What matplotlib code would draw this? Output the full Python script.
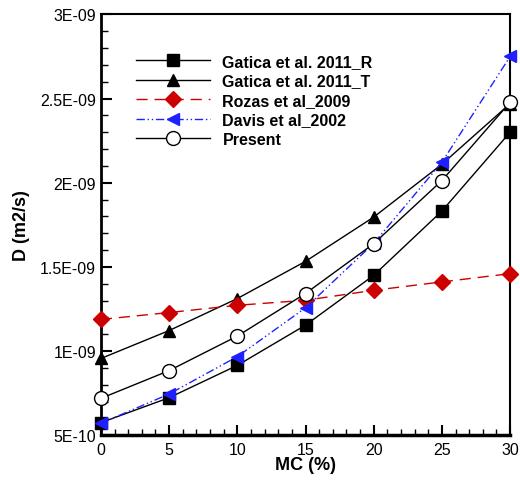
import numpy as np
import matplotlib
matplotlib.use("Agg")
import matplotlib.pyplot as plt
from matplotlib.ticker import MultipleLocator, FuncFormatter

plt.rcParams['font.family'] = ['Liberation Sans', 'DejaVu Sans']

mc = [0, 5, 10, 15, 20, 25, 30]
gatica_r = [0.575e-9, 0.723e-9, 0.915e-9, 1.154e-9, 1.450e-9, 1.832e-9, 2.300e-9]
gatica_t = [0.956e-9, 1.122e-9, 1.312e-9, 1.533e-9, 1.796e-9, 2.110e-9, 2.470e-9]
rozas = [1.188e-9, 1.229e-9, 1.272e-9, 1.302e-9, 1.361e-9, 1.411e-9, 1.460e-9]
davis = [0.571e-9, 0.745e-9, 0.967e-9, 1.257e-9, 1.640e-9, 2.122e-9, 2.750e-9]
present = [0.719e-9, 0.884e-9, 1.089e-9, 1.342e-9, 1.638e-9, 2.013e-9, 2.478e-9]

fig = plt.figure(figsize=(5.2, 4.81), dpi=100)
ax = fig.add_axes([0.194, 0.093, 0.787, 0.875])

ax.plot(mc, gatica_r, color='black', lw=1, marker='s', ms=8.5, label='Gatica et al. 2011_R', clip_on=False, zorder=3)
ax.plot(mc, gatica_t, color='black', lw=1, marker='^', ms=8.5, label='Gatica et al. 2011_T', clip_on=False, zorder=3)
ax.plot(mc, rozas, color='#cc0000', lw=1, ls=(0, (8, 5)), marker='D', ms=8, mec='#cc0000', mfc='#cc0000',
        label='Rozas et al_2009', clip_on=False, zorder=3)
ax.plot(mc, davis, color='#2020ff', lw=1, ls=(0, (6, 2, 1, 2, 1, 2)), marker='<', ms=9,
        label='Davis et al_2002', clip_on=False, zorder=4)
ax.plot(mc, present, color='black', lw=1, marker='o', ms=10, mfc='white', mec='black',
        label='Present', clip_on=False, zorder=5)

ax.set_xlim(0, 30)
ax.set_ylim(5e-10, 3e-9)
ax.xaxis.set_major_locator(MultipleLocator(5))
ax.xaxis.set_minor_locator(MultipleLocator(1))
ax.yaxis.set_major_locator(MultipleLocator(5e-10))
ax.yaxis.set_minor_locator(MultipleLocator(1e-10))

def yfmt(v, pos):
    labels = {5: '5E-10', 10: '1E-09', 15: '1.5E-09', 20: '2E-09', 25: '2.5E-09', 30: '3E-09'}
    return labels.get(int(round(v * 1e10)), '')

ax.yaxis.set_major_formatter(FuncFormatter(yfmt))

ax.tick_params(which='both', direction='in', top=False, right=False, labelsize=11.5)
ax.tick_params(axis='y', which='major', length=8, width=1.5)
ax.tick_params(axis='y', which='minor', length=5, width=1)
ax.tick_params(axis='x', which='major', length=7, width=1.5, pad=5)
ax.tick_params(axis='x', which='minor', length=4, width=1)

ax.spines['left'].set_linewidth(2)
ax.spines['bottom'].set_linewidth(2.5)
ax.spines['top'].set_linewidth(1.5)
ax.spines['right'].set_linewidth(1.5)

ax.set_xlabel('MC (%)', fontsize=13, fontweight='bold', labelpad=-1)
ax.set_ylabel('D (m2/s)', fontsize=13, fontweight='bold', labelpad=7)

leg = ax.legend(loc='upper left', bbox_to_anchor=(0.051, 0.94), frameon=False,
                handlelength=4.6, handletextpad=0.8, labelspacing=0.28,
                prop={'weight': 'bold', 'size': 11.5})

fig.savefig('out.png', dpi=100)
